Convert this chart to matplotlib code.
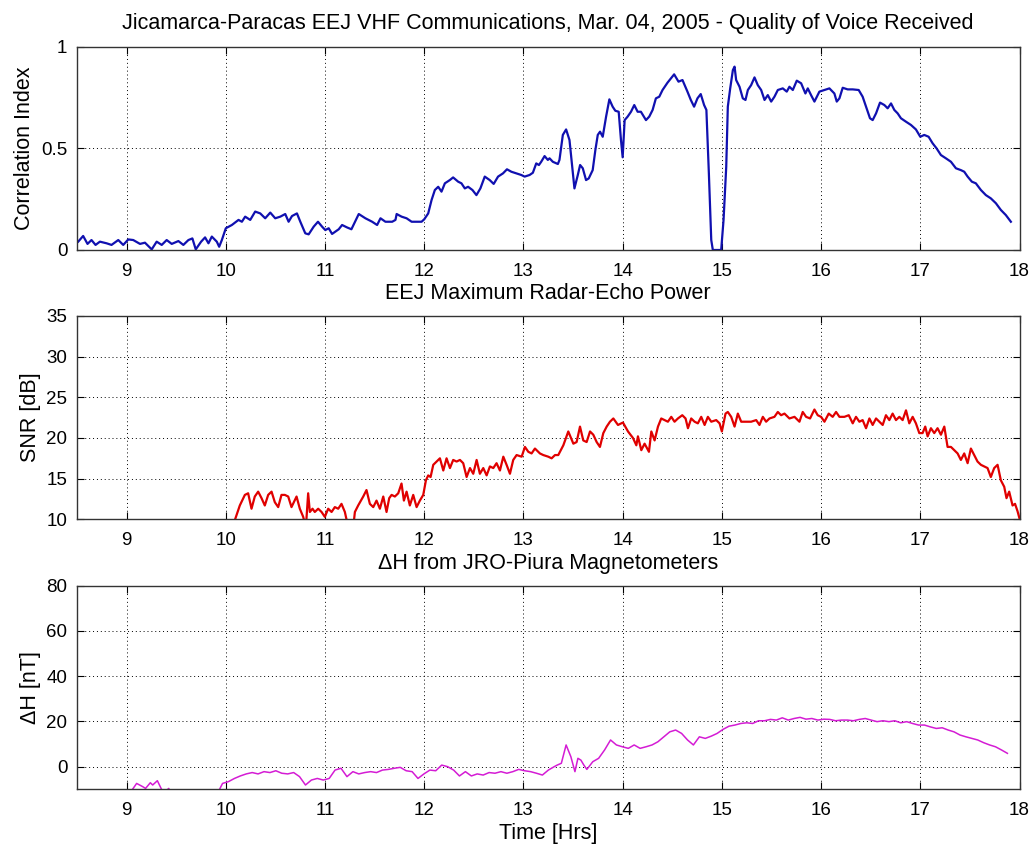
import matplotlib
matplotlib.use("Agg")
import matplotlib.pyplot as plt

plt.rcParams['font.family'] = ['Liberation Sans', 'DejaVu Sans']

# ---------------- data ----------------
corr_t = [8.512, 8.562, 8.606, 8.646, 8.687, 8.731, 8.798, 8.848, 8.916, 8.966,
          9.017, 9.067, 9.135, 9.185, 9.253, 9.303, 9.354, 9.404, 9.455, 9.522,
          9.572, 9.623, 9.663, 9.697, 9.751, 9.791, 9.825, 9.859, 9.909, 9.933,
          9.960, 10.000, 10.061, 10.128, 10.162, 10.195, 10.246, 10.296, 10.347, 10.397,
          10.448, 10.498, 10.549, 10.599, 10.633, 10.667, 10.717, 10.751, 10.801, 10.835,
          10.886, 10.929, 10.970, 11.003, 11.037, 11.071, 11.138, 11.172, 11.222, 11.266,
          11.340, 11.407, 11.475, 11.525, 11.559, 11.609, 11.677, 11.710, 11.722, 11.772,
          11.822, 11.873, 11.923, 11.973, 12.000, 12.040, 12.074, 12.107, 12.141, 12.174,
          12.208, 12.258, 12.291, 12.342, 12.375, 12.409, 12.442, 12.486, 12.526, 12.566,
          12.610, 12.660, 12.700, 12.744, 12.794, 12.834, 12.878, 12.928, 12.978, 13.012,
          13.062, 13.095, 13.129, 13.156, 13.179, 13.213, 13.246, 13.263, 13.296, 13.347,
          13.363, 13.397, 13.430, 13.464, 13.491, 13.514, 13.548, 13.571, 13.598, 13.631,
          13.658, 13.698, 13.725, 13.749, 13.772, 13.799, 13.833, 13.866, 13.899, 13.926,
          13.960, 13.983, 14.000, 14.020, 14.050, 14.084, 14.117, 14.151, 14.184, 14.235,
          14.268, 14.302, 14.335, 14.369, 14.402, 14.452, 14.519, 14.563, 14.603, 14.653,
          14.687, 14.720, 14.754, 14.787, 14.821, 14.844, 14.869, 14.893, 14.909, 14.993,
          15.017, 15.044, 15.060, 15.084, 15.111, 15.128, 15.144, 15.178, 15.211, 15.238,
          15.262, 15.295, 15.329, 15.362, 15.396, 15.430, 15.463, 15.497, 15.530, 15.564,
          15.614, 15.654, 15.681, 15.715, 15.755, 15.799, 15.842, 15.866, 15.899, 15.933,
          15.983, 16.034, 16.084, 16.134, 16.158, 16.185, 16.218, 16.268, 16.319, 16.379,
          16.419, 16.453, 16.493, 16.520, 16.554, 16.594, 16.638, 16.671, 16.705, 16.738,
          16.772, 16.805, 16.856, 16.906, 16.956, 17.000, 17.040, 17.084, 17.124, 17.164,
          17.208, 17.258, 17.309, 17.359, 17.409, 17.443, 17.477, 17.520, 17.560, 17.611,
          17.661, 17.711, 17.762, 17.812, 17.862, 17.913]
corr_v = [0.041, 0.069, 0.030, 0.049, 0.025, 0.041, 0.033, 0.025, 0.049, 0.025,
          0.052, 0.049, 0.030, 0.036, 0.003, 0.041, 0.025, 0.049, 0.030, 0.044,
          0.025, 0.049, 0.057, 0.003, 0.041, 0.062, 0.033, 0.066, 0.041, 0.016,
          0.049, 0.107, 0.123, 0.148, 0.139, 0.164, 0.148, 0.189, 0.180, 0.156,
          0.184, 0.156, 0.164, 0.177, 0.139, 0.167, 0.180, 0.139, 0.082, 0.077,
          0.115, 0.139, 0.115, 0.098, 0.107, 0.079, 0.102, 0.123, 0.111, 0.102,
          0.177, 0.156, 0.139, 0.123, 0.156, 0.139, 0.139, 0.148, 0.177, 0.164,
          0.156, 0.139, 0.139, 0.139, 0.151, 0.180, 0.246, 0.295, 0.311, 0.287,
          0.328, 0.344, 0.357, 0.336, 0.328, 0.303, 0.311, 0.295, 0.270, 0.303,
          0.361, 0.344, 0.325, 0.361, 0.377, 0.397, 0.385, 0.377, 0.369, 0.361,
          0.369, 0.380, 0.426, 0.418, 0.434, 0.462, 0.443, 0.451, 0.434, 0.423,
          0.443, 0.566, 0.593, 0.541, 0.410, 0.303, 0.369, 0.418, 0.402, 0.344,
          0.352, 0.393, 0.492, 0.566, 0.582, 0.557, 0.656, 0.741, 0.705, 0.685,
          0.680, 0.541, 0.456, 0.639, 0.656, 0.680, 0.713, 0.680, 0.680, 0.639,
          0.656, 0.689, 0.746, 0.754, 0.787, 0.823, 0.864, 0.828, 0.836, 0.779,
          0.738, 0.705, 0.746, 0.767, 0.713, 0.689, 0.377, 0.049, 0.000, 0.000,
          0.148, 0.410, 0.705, 0.795, 0.885, 0.902, 0.836, 0.803, 0.746, 0.738,
          0.787, 0.811, 0.849, 0.811, 0.787, 0.738, 0.762, 0.730, 0.754, 0.787,
          0.795, 0.779, 0.803, 0.787, 0.833, 0.820, 0.770, 0.795, 0.762, 0.730,
          0.779, 0.787, 0.795, 0.770, 0.730, 0.746, 0.798, 0.790, 0.790, 0.787,
          0.754, 0.705, 0.648, 0.639, 0.672, 0.725, 0.713, 0.697, 0.721, 0.689,
          0.672, 0.648, 0.631, 0.615, 0.593, 0.557, 0.566, 0.557, 0.525, 0.500,
          0.467, 0.451, 0.434, 0.402, 0.393, 0.385, 0.361, 0.336, 0.328, 0.295,
          0.270, 0.254, 0.230, 0.197, 0.172, 0.139]

snr_t = [10.070, 10.091, 10.141, 10.192, 10.225, 10.259, 10.292, 10.326, 10.360, 10.393,
         10.427, 10.461, 10.494, 10.528, 10.561, 10.595, 10.629, 10.662, 10.713, 10.746,
         10.780, 10.807, 10.830, 10.847, 10.874, 10.897, 10.931, 10.965, 10.998, 11.032,
         11.066, 11.099, 11.133, 11.166, 11.200, 11.234, 11.284, 11.301, 11.334, 11.385,
         11.418, 11.452, 11.486, 11.519, 11.553, 11.587, 11.620, 11.647, 11.671, 11.704,
         11.738, 11.771, 11.795, 11.822, 11.855, 11.889, 11.923, 11.956, 11.990, 12.017,
         12.040, 12.064, 12.091, 12.124, 12.158, 12.192, 12.225, 12.259, 12.292, 12.326,
         12.360, 12.393, 12.427, 12.461, 12.494, 12.528, 12.561, 12.595, 12.629, 12.662,
         12.696, 12.729, 12.763, 12.797, 12.830, 12.864, 12.897, 12.931, 12.982, 13.015,
         13.049, 13.082, 13.116, 13.166, 13.200, 13.250, 13.284, 13.318, 13.351, 13.402,
         13.452, 13.503, 13.536, 13.570, 13.603, 13.637, 13.671, 13.704, 13.738, 13.771,
         13.805, 13.839, 13.872, 13.906, 13.953, 14.003, 14.054, 14.104, 14.138, 14.154,
         14.188, 14.221, 14.265, 14.289, 14.322, 14.356, 14.389, 14.423, 14.456, 14.490,
         14.523, 14.557, 14.601, 14.634, 14.658, 14.691, 14.725, 14.758, 14.792, 14.826,
         14.859, 14.893, 14.943, 14.977, 15.000, 15.037, 15.060, 15.094, 15.128, 15.161,
         15.195, 15.245, 15.295, 15.346, 15.379, 15.413, 15.446, 15.480, 15.530, 15.564,
         15.597, 15.631, 15.681, 15.732, 15.782, 15.815, 15.849, 15.889, 15.933, 15.966,
         16.000, 16.034, 16.077, 16.117, 16.151, 16.185, 16.235, 16.279, 16.319, 16.352,
         16.386, 16.419, 16.453, 16.487, 16.520, 16.554, 16.587, 16.621, 16.654, 16.688,
         16.721, 16.755, 16.789, 16.822, 16.856, 16.889, 16.923, 16.956, 16.990, 17.023,
         17.050, 17.074, 17.107, 17.141, 17.174, 17.208, 17.242, 17.275, 17.309, 17.342,
         17.376, 17.409, 17.443, 17.477, 17.510, 17.544, 17.577, 17.611, 17.644, 17.678,
         17.711, 17.745, 17.779, 17.812, 17.846, 17.869, 17.896, 17.930, 17.955, 17.980,
         18.000]
snr_v = [9.0, 9.9, 11.7, 13.0, 13.2, 11.3, 12.8, 13.4, 12.6, 11.7,
         13.0, 13.4, 12.1, 11.5, 13.0, 13.0, 12.8, 11.5, 12.8, 11.3,
         10.3, 9.0, 13.2, 10.9, 11.3, 10.9, 11.3, 10.9, 10.3, 11.3,
         10.9, 11.5, 11.3, 11.9, 10.9, 9.0, 9.0, 10.9, 11.7, 12.8,
         13.6, 11.9, 11.5, 12.3, 11.3, 12.8, 10.9, 12.6, 13.0, 12.8,
         13.2, 14.4, 12.3, 13.4, 11.7, 13.0, 11.5, 12.3, 13.0, 14.8,
         15.4, 15.2, 16.7, 17.1, 17.5, 16.0, 17.5, 16.3, 17.3, 17.1,
         17.3, 16.9, 15.2, 16.3, 15.6, 17.3, 15.6, 16.3, 15.4, 16.5,
         16.3, 16.9, 16.0, 17.7, 16.7, 15.6, 17.3, 17.9, 17.7, 18.9,
         18.3, 18.1, 18.7, 18.1, 17.9, 17.7, 17.5, 17.9, 17.9, 19.1,
         20.8, 19.3, 19.5, 21.4, 19.7, 19.5, 20.8, 20.4, 19.5, 18.9,
         20.6, 21.4, 22.0, 22.4, 21.6, 21.9, 20.8, 20.0, 19.1, 20.2,
         18.5, 19.3, 18.3, 20.8, 19.7, 21.4, 22.4, 22.2, 22.0, 22.6,
         22.0, 22.4, 22.8, 22.4, 21.2, 22.4, 22.0, 21.8, 22.6, 21.6,
         22.6, 22.0, 22.2, 21.8, 20.8, 23.0, 23.2, 22.6, 21.4, 23.0,
         22.0, 22.0, 22.0, 22.2, 21.6, 22.6, 22.0, 22.4, 22.6, 23.2,
         22.8, 23.0, 22.4, 22.6, 22.0, 23.2, 22.6, 22.4, 23.5, 22.8,
         22.6, 22.0, 23.0, 22.6, 23.2, 22.6, 22.6, 22.8, 21.8, 22.6,
         22.0, 22.2, 21.2, 22.4, 21.6, 22.4, 22.0, 21.6, 22.8, 22.2,
         23.0, 22.2, 22.6, 22.2, 23.4, 21.8, 22.6, 21.8, 20.6, 20.6,
         21.4, 20.2, 21.2, 20.6, 21.2, 20.4, 21.4, 18.9, 18.9, 18.5,
         18.1, 17.3, 18.1, 16.9, 18.7, 17.9, 17.1, 16.7, 16.5, 16.3,
         15.2, 16.3, 16.7, 14.8, 14.0, 12.6, 13.4, 11.7, 11.9, 11.0,
         10.1]

dh_t = [9.000, 9.060, 9.101, 9.161, 9.191, 9.239, 9.263, 9.310, 9.352, 9.380,
        9.410, 9.425, 9.440, 9.900, 9.937, 9.967, 10.027, 10.087, 10.146, 10.206,
        10.266, 10.325, 10.385, 10.445, 10.504, 10.564, 10.624, 10.684, 10.743, 10.803,
        10.863, 10.922, 10.982, 11.042, 11.101, 11.161, 11.221, 11.281, 11.340, 11.400,
        11.460, 11.519, 11.579, 11.639, 11.699, 11.758, 11.818, 11.878, 11.937, 11.997,
        12.057, 12.116, 12.176, 12.236, 12.296, 12.355, 12.415, 12.475, 12.534, 12.594,
        12.654, 12.713, 12.773, 12.833, 12.893, 12.952, 13.012, 13.072, 13.131, 13.191,
        13.251, 13.310, 13.340, 13.382, 13.430, 13.478, 13.519, 13.549, 13.579, 13.609,
        13.639, 13.699, 13.758, 13.818, 13.878, 13.937, 13.997, 14.057, 14.116, 14.176,
        14.236, 14.296, 14.355, 14.415, 14.475, 14.534, 14.594, 14.654, 14.713, 14.773,
        14.833, 14.893, 14.952, 15.012, 15.072, 15.131, 15.191, 15.251, 15.310, 15.370,
        15.430, 15.490, 15.549, 15.609, 15.669, 15.728, 15.788, 15.848, 15.907, 15.967,
        16.027, 16.087, 16.146, 16.206, 16.266, 16.325, 16.385, 16.445, 16.504, 16.564,
        16.624, 16.684, 16.743, 16.803, 16.863, 16.922, 16.982, 17.042, 17.101, 17.161,
        17.221, 17.281, 17.340, 17.400, 17.460, 17.519, 17.579, 17.639, 17.699, 17.758,
        17.818, 17.878]
dh_v = [-13.0, -10.0, -7.4, -8.8, -9.6, -7.1, -8.1, -6.2, -10.0, -12.0,
        -10.2, -9.6, -12.0, -13.0, -10.0, -7.4, -6.6, -5.2, -4.1, -3.2,
        -2.6, -3.2, -2.2, -2.6, -1.8, -2.9, -3.2, -2.6, -4.4, -8.1,
        -5.9, -5.2, -5.9, -5.2, -1.5, -0.7, -4.4, -2.2, -3.2, -2.6,
        -2.2, -2.6, -1.5, -1.2, -0.7, -0.3, -1.8, -2.2, -5.2, -3.2,
        -1.5, -1.8, 0.7, 0.0, -1.5, -4.1, -2.2, -4.1, -3.2, -3.7,
        -2.6, -2.9, -2.2, -2.9, -2.2, -1.2, -1.8, -2.2, -2.9, -3.7,
        -1.5, 0.0, 0.7, 1.5, 9.6, 4.4, -2.2, 3.7, 2.9, 0.7,
        -1.2, 2.2, 3.7, 7.4, 11.8, 9.6, 8.8, 8.1, 9.6, 8.1,
        8.8, 9.6, 11.0, 13.2, 15.4, 16.2, 14.7, 11.8, 9.6, 13.2,
        12.5, 13.5, 14.7, 16.5, 17.9, 18.4, 19.1, 19.4, 19.1, 20.3,
        20.3, 20.9, 20.6, 21.6, 20.6, 21.3, 21.8, 21.0, 21.3, 20.6,
        21.0, 20.9, 20.3, 20.6, 20.6, 20.3, 20.9, 21.3, 20.6, 19.9,
        20.3, 19.9, 20.3, 19.4, 19.9, 19.1, 18.4, 18.4, 17.6, 16.9,
        17.2, 16.2, 15.4, 14.0, 13.2, 12.5, 11.8, 10.6, 9.6, 8.8,
        7.4, 5.9]

x_ticks = [9, 10, 11, 12, 13, 14, 15, 16, 17, 18]
corr_ticks = [0, 0.5, 1]
corr_ticklabels = ['0', '0.5', '1']
snr_ticks = [10, 15, 20, 25, 30, 35]
dh_ticks = [0, 20, 40, 60, 80]

# ---------------- figure ----------------
W, H = 1035, 846
fig = plt.figure(figsize=(W / 100, H / 100), dpi=100)
fig.patch.set_facecolor('white')

left = 77 / W
width = (1019.5 - 77) / W

def make_axes(top_px, bot_px):
    return fig.add_axes([left, 1 - bot_px / H, width, (bot_px - top_px) / H])

ax1 = make_axes(46.7, 250)
ax2 = make_axes(316, 519.3)
ax3 = make_axes(585.7, 789.3)

TFS = 13.5   # tick labels
LFS = 15.5   # titles / axis labels

def style(ax):
    ax.set_xlim(8.5, 18)
    ax.set_xticks(x_ticks)
    ax.grid(True, color='black', linestyle=(0, (1, 3)), linewidth=0.7)
    ax.tick_params(direction='in', length=5, width=0.8, top=True, right=True,
                   labelsize=TFS, pad=7, colors='black')
    ax.tick_params(axis='x', pad=9)
    for s in ax.spines.values():
        s.set_color('#333333')
        s.set_linewidth(1.0)
    ax.set_axisbelow(True)

ax1.plot(corr_t, corr_v, color='#1010b0', linewidth=1.6)
style(ax1)
ax1.set_ylim(0, 1)
ax1.set_yticks(corr_ticks)
ax1.set_yticklabels(corr_ticklabels)
ax1.set_ylabel('Correlation Index', fontsize=LFS, labelpad=4)
ax1.set_title('Jicamarca-Paracas EEJ VHF Communications, Mar. 04, 2005 - Quality of Voice Received',
              fontsize=LFS, pad=13)

ax2.plot(snr_t, snr_v, color='#e00000', linewidth=1.6)
style(ax2)
ax2.set_ylim(10, 35)
ax2.set_yticks(snr_ticks)
ax2.set_ylabel('SNR [dB]', fontsize=LFS, labelpad=4)
ax2.set_title('EEJ Maximum Radar-Echo Power', fontsize=LFS, pad=12)

ax3.plot(dh_t, dh_v, color='#d41cd4', linewidth=1.1)
style(ax3)
ax3.set_ylim(-10, 80)
ax3.set_yticks(dh_ticks)
ax3.set_ylabel('ΔH [nT]', fontsize=LFS, labelpad=4)
ax3.set_title('ΔH from JRO-Piura Magnetometers', fontsize=LFS, pad=12)
ax3.set_xlabel('Time [Hrs]', fontsize=LFS, labelpad=3)

fig.savefig('out.png', dpi=100, facecolor='white')
